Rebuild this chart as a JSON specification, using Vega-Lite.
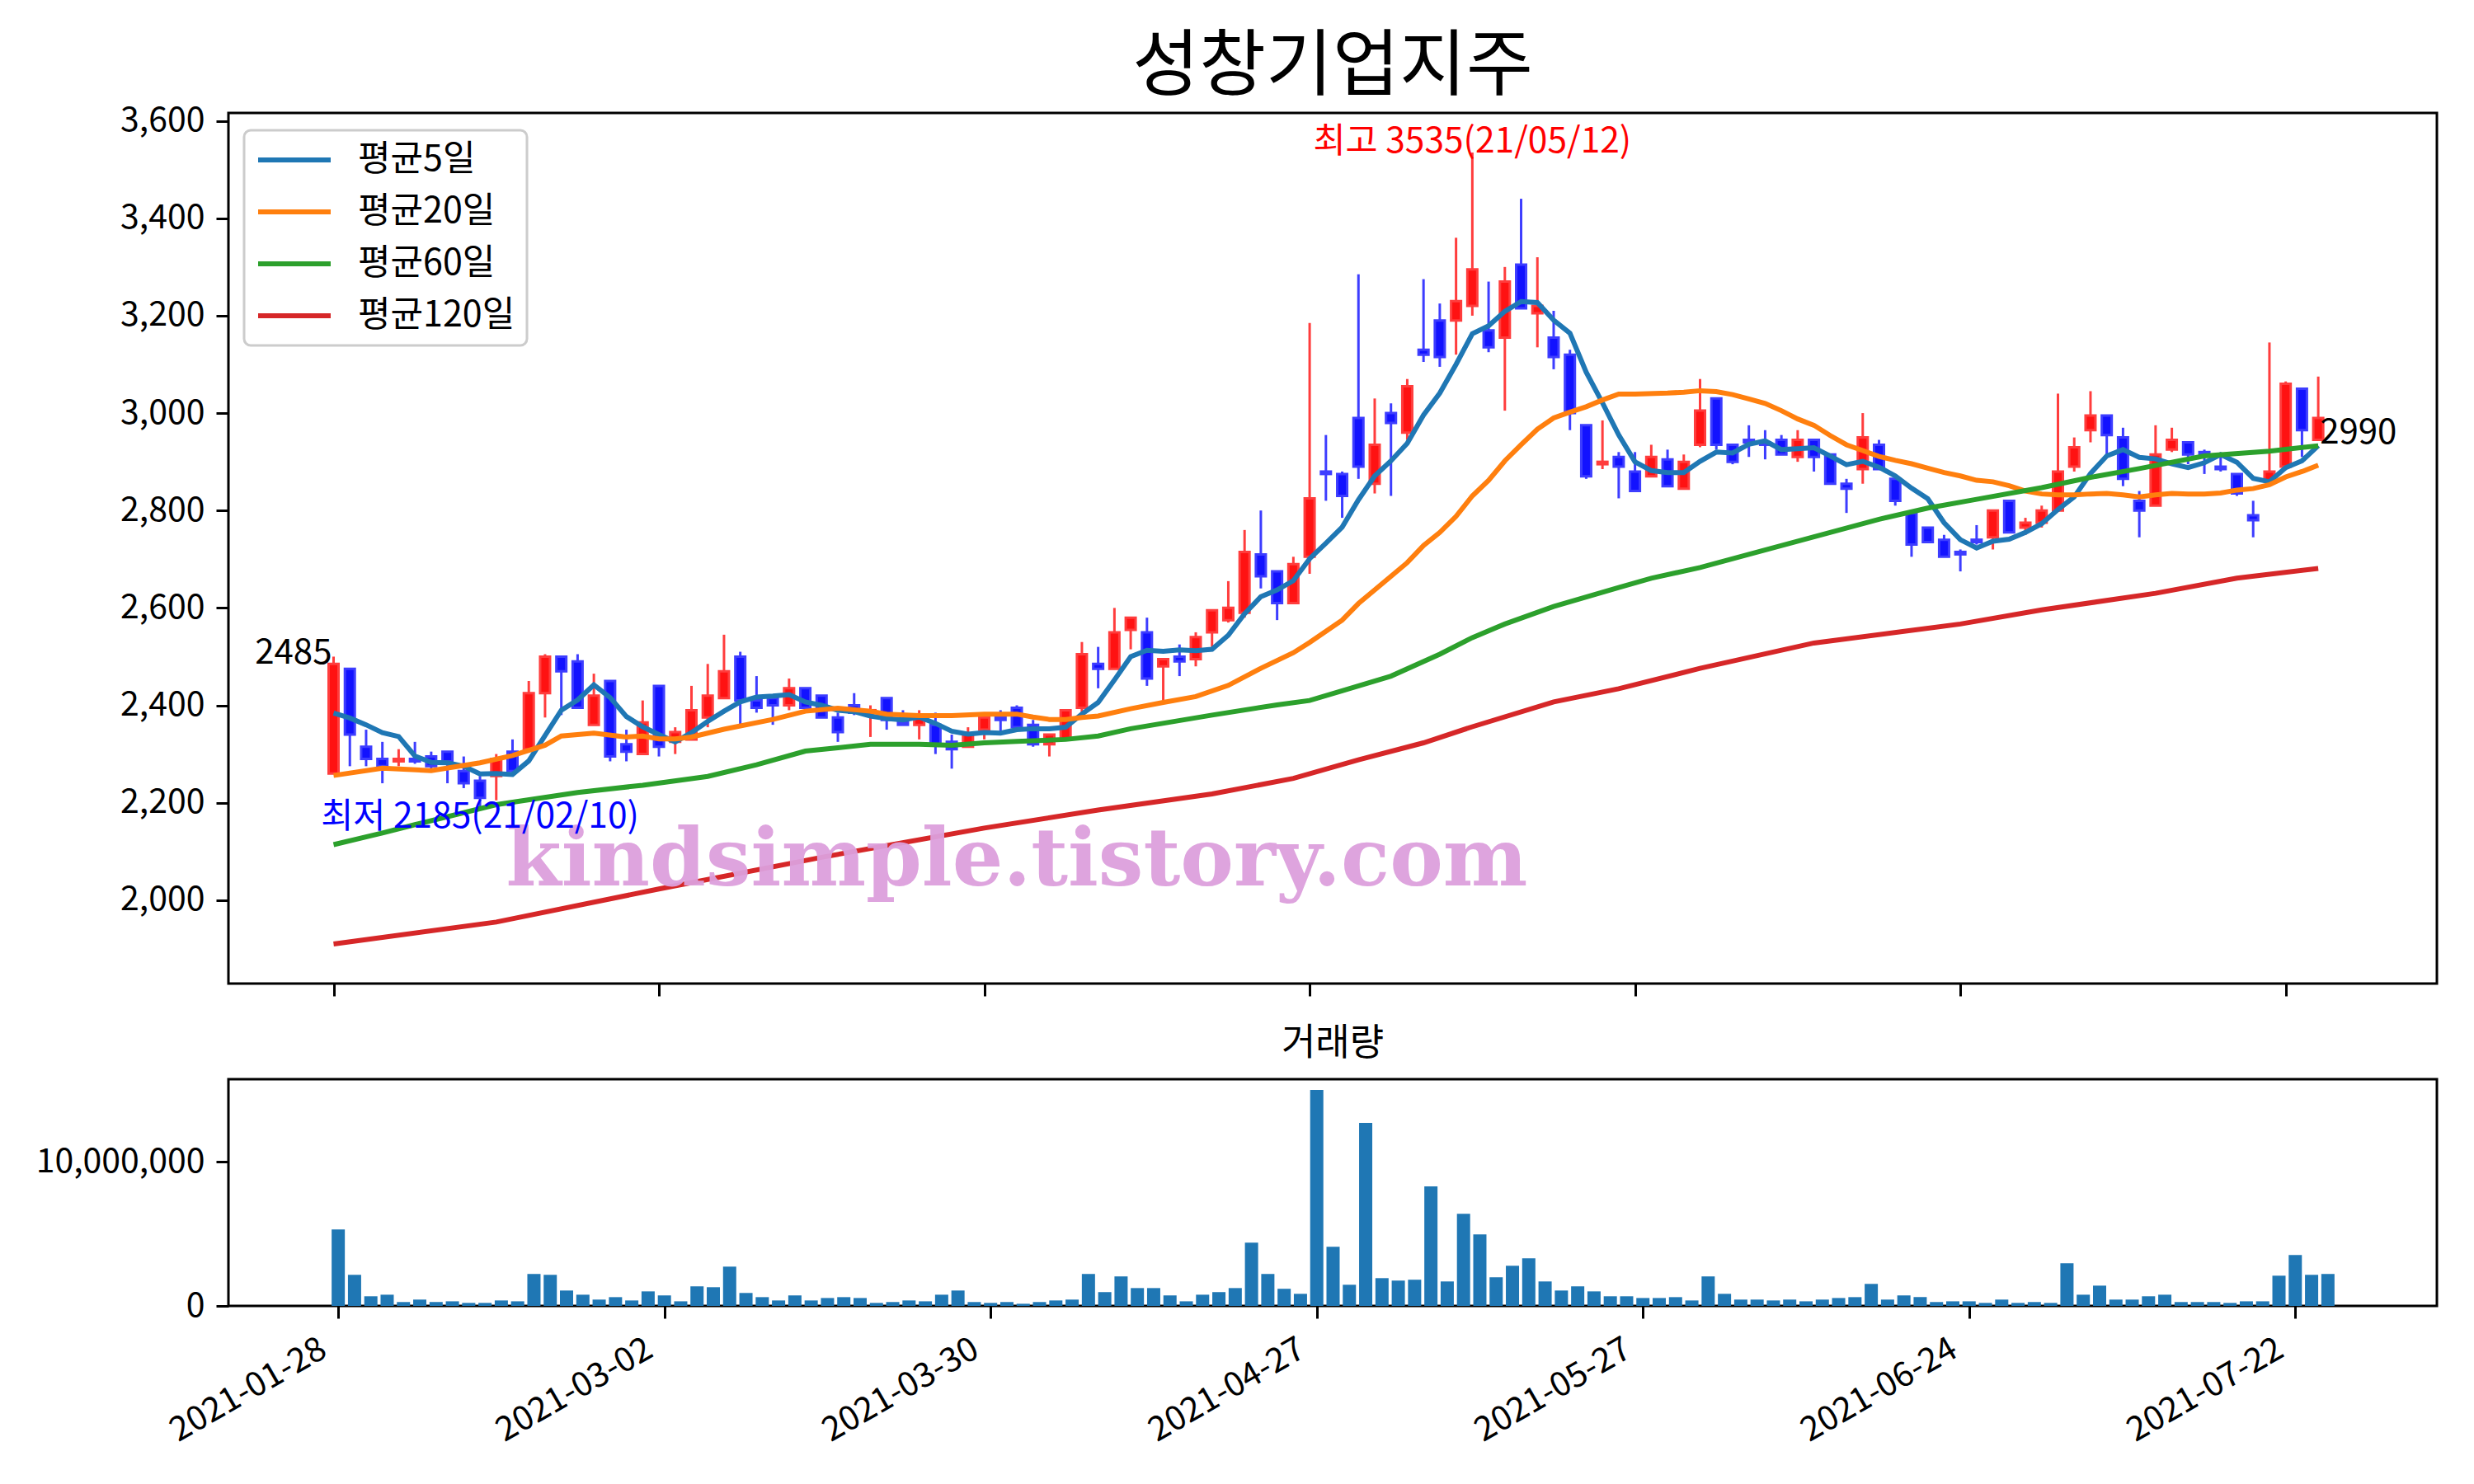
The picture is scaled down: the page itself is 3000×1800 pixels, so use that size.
{
"$schema":"https://vega.github.io/schema/vega-lite/v6.json",
"padding":{"left":41,"top":36,"right":10,"bottom":10},
"spacing":31,
"config":{
 "font":"Noto Sans CJK KR",
 "view":{"stroke":"black","strokeWidth":3},
 "axis":{"labelFont":"Noto Sans CJK KR","labelFontSize":41,"labelColor":"black","tickColor":"black","tickWidth":3,"tickSize":15,"domain":false,"grid":false,"labelPadding":14,"labelLimit":600,"title":null},
 "legend":{"strokeWidth":3},
 "title":{"font":"Noto Sans CJK KR","fontWeight":"normal","color":"black"}
},
"datasets":{
"k":[
{"idx":0,"date":"2021-01-28","open":2260,"high":2500,"low":2260,"close":2485,"volume":5310000},
{"idx":1,"date":"2021-01-29","open":2475,"high":2475,"low":2275,"close":2340,"volume":2160000},
{"idx":2,"date":"2021-02-01","open":2315,"high":2350,"low":2275,"close":2290,"volume":670000},
{"idx":3,"date":"2021-02-02","open":2290,"high":2325,"low":2240,"close":2275,"volume":780000},
{"idx":4,"date":"2021-02-03","open":2285,"high":2310,"low":2275,"close":2290,"volume":270000},
{"idx":5,"date":"2021-02-04","open":2290,"high":2325,"low":2280,"close":2285,"volume":440000},
{"idx":6,"date":"2021-02-05","open":2295,"high":2305,"low":2270,"close":2275,"volume":270000},
{"idx":7,"date":"2021-02-08","open":2305,"high":2305,"low":2240,"close":2285,"volume":320000},
{"idx":8,"date":"2021-02-09","open":2265,"high":2295,"low":2230,"close":2240,"volume":210000},
{"idx":9,"date":"2021-02-10","open":2245,"high":2255,"low":2185,"close":2210,"volume":210000},
{"idx":10,"date":"2021-02-15","open":2255,"high":2300,"low":2205,"close":2290,"volume":380000},
{"idx":11,"date":"2021-02-16","open":2305,"high":2330,"low":2265,"close":2265,"volume":320000},
{"idx":12,"date":"2021-02-17","open":2310,"high":2450,"low":2310,"close":2425,"volume":2220000},
{"idx":13,"date":"2021-02-18","open":2425,"high":2505,"low":2375,"close":2500,"volume":2160000},
{"idx":14,"date":"2021-02-19","open":2500,"high":2500,"low":2380,"close":2470,"volume":1070000},
{"idx":15,"date":"2021-02-22","open":2490,"high":2505,"low":2395,"close":2395,"volume":780000},
{"idx":16,"date":"2021-02-23","open":2360,"high":2465,"low":2360,"close":2420,"volume":440000},
{"idx":17,"date":"2021-02-24","open":2450,"high":2450,"low":2285,"close":2295,"volume":610000},
{"idx":18,"date":"2021-02-25","open":2320,"high":2350,"low":2285,"close":2305,"volume":380000},
{"idx":19,"date":"2021-02-26","open":2300,"high":2410,"low":2300,"close":2365,"volume":1010000},
{"idx":20,"date":"2021-03-02","open":2440,"high":2440,"low":2295,"close":2315,"volume":730000},
{"idx":21,"date":"2021-03-03","open":2325,"high":2355,"low":2300,"close":2345,"volume":320000},
{"idx":22,"date":"2021-03-04","open":2330,"high":2440,"low":2330,"close":2390,"volume":1360000},
{"idx":23,"date":"2021-03-05","open":2375,"high":2485,"low":2355,"close":2420,"volume":1300000},
{"idx":24,"date":"2021-03-08","open":2415,"high":2545,"low":2415,"close":2470,"volume":2730000},
{"idx":25,"date":"2021-03-09","open":2500,"high":2510,"low":2360,"close":2410,"volume":900000},
{"idx":26,"date":"2021-03-10","open":2410,"high":2460,"low":2385,"close":2395,"volume":610000},
{"idx":27,"date":"2021-03-11","open":2415,"high":2415,"low":2360,"close":2400,"volume":380000},
{"idx":28,"date":"2021-03-12","open":2400,"high":2455,"low":2390,"close":2435,"volume":730000},
{"idx":29,"date":"2021-03-15","open":2435,"high":2435,"low":2395,"close":2395,"volume":380000},
{"idx":30,"date":"2021-03-16","open":2420,"high":2420,"low":2375,"close":2375,"volume":550000},
{"idx":31,"date":"2021-03-17","open":2375,"high":2385,"low":2325,"close":2345,"volume":610000},
{"idx":32,"date":"2021-03-18","open":2400,"high":2425,"low":2380,"close":2385,"volume":550000},
{"idx":33,"date":"2021-03-19","open":2385,"high":2400,"low":2335,"close":2390,"volume":210000},
{"idx":34,"date":"2021-03-22","open":2415,"high":2415,"low":2350,"close":2370,"volume":270000},
{"idx":35,"date":"2021-03-23","open":2365,"high":2390,"low":2360,"close":2360,"volume":380000},
{"idx":36,"date":"2021-03-24","open":2360,"high":2390,"low":2330,"close":2375,"volume":320000},
{"idx":37,"date":"2021-03-25","open":2360,"high":2385,"low":2300,"close":2320,"volume":780000},
{"idx":38,"date":"2021-03-26","open":2325,"high":2340,"low":2270,"close":2310,"volume":1070000},
{"idx":39,"date":"2021-03-29","open":2315,"high":2355,"low":2315,"close":2340,"volume":270000},
{"idx":40,"date":"2021-03-30","open":2350,"high":2375,"low":2330,"close":2375,"volume":210000},
{"idx":41,"date":"2021-03-31","open":2375,"high":2390,"low":2345,"close":2370,"volume":270000},
{"idx":42,"date":"2021-04-01","open":2395,"high":2400,"low":2355,"close":2355,"volume":150000},
{"idx":43,"date":"2021-04-02","open":2360,"high":2370,"low":2315,"close":2320,"volume":270000},
{"idx":44,"date":"2021-04-05","open":2320,"high":2340,"low":2295,"close":2340,"volume":380000},
{"idx":45,"date":"2021-04-06","open":2330,"high":2390,"low":2330,"close":2390,"volume":440000},
{"idx":46,"date":"2021-04-07","open":2395,"high":2530,"low":2385,"close":2505,"volume":2220000},
{"idx":47,"date":"2021-04-08","open":2485,"high":2520,"low":2435,"close":2475,"volume":960000},
{"idx":48,"date":"2021-04-09","open":2475,"high":2600,"low":2475,"close":2550,"volume":2050000},
{"idx":49,"date":"2021-04-12","open":2555,"high":2580,"low":2515,"close":2580,"volume":1240000},
{"idx":50,"date":"2021-04-13","open":2550,"high":2580,"low":2440,"close":2455,"volume":1240000},
{"idx":51,"date":"2021-04-14","open":2480,"high":2495,"low":2410,"close":2495,"volume":730000},
{"idx":52,"date":"2021-04-15","open":2500,"high":2525,"low":2460,"close":2490,"volume":320000},
{"idx":53,"date":"2021-04-16","open":2495,"high":2550,"low":2480,"close":2540,"volume":780000},
{"idx":54,"date":"2021-04-19","open":2550,"high":2595,"low":2520,"close":2595,"volume":960000},
{"idx":55,"date":"2021-04-20","open":2575,"high":2655,"low":2570,"close":2600,"volume":1240000},
{"idx":56,"date":"2021-04-21","open":2590,"high":2760,"low":2580,"close":2715,"volume":4400000},
{"idx":57,"date":"2021-04-22","open":2710,"high":2800,"low":2640,"close":2665,"volume":2220000},
{"idx":58,"date":"2021-04-23","open":2675,"high":2675,"low":2575,"close":2610,"volume":1190000},
{"idx":59,"date":"2021-04-26","open":2610,"high":2705,"low":2610,"close":2690,"volume":840000},
{"idx":60,"date":"2021-04-27","open":2705,"high":3185,"low":2670,"close":2825,"volume":15000000},
{"idx":61,"date":"2021-04-28","open":2880,"high":2955,"low":2820,"close":2875,"volume":4110000},
{"idx":62,"date":"2021-04-29","open":2875,"high":2880,"low":2785,"close":2830,"volume":1470000},
{"idx":63,"date":"2021-04-30","open":2990,"high":3285,"low":2865,"close":2890,"volume":12710000},
{"idx":64,"date":"2021-05-03","open":2855,"high":3030,"low":2835,"close":2935,"volume":1930000},
{"idx":65,"date":"2021-05-04","open":3000,"high":3020,"low":2830,"close":2980,"volume":1760000},
{"idx":66,"date":"2021-05-06","open":2960,"high":3070,"low":2945,"close":3055,"volume":1820000},
{"idx":67,"date":"2021-05-07","open":3130,"high":3275,"low":3105,"close":3120,"volume":8300000},
{"idx":68,"date":"2021-05-10","open":3190,"high":3225,"low":3095,"close":3115,"volume":1700000},
{"idx":69,"date":"2021-05-11","open":3190,"high":3360,"low":3120,"close":3230,"volume":6400000},
{"idx":70,"date":"2021-05-12","open":3220,"high":3535,"low":3200,"close":3295,"volume":4970000},
{"idx":71,"date":"2021-05-13","open":3170,"high":3270,"low":3125,"close":3135,"volume":1990000},
{"idx":72,"date":"2021-05-14","open":3155,"high":3300,"low":3005,"close":3270,"volume":2790000},
{"idx":73,"date":"2021-05-17","open":3305,"high":3440,"low":3215,"close":3215,"volume":3310000},
{"idx":74,"date":"2021-05-18","open":3205,"high":3320,"low":3135,"close":3220,"volume":1700000},
{"idx":75,"date":"2021-05-20","open":3155,"high":3210,"low":3090,"close":3115,"volume":1070000},
{"idx":76,"date":"2021-05-21","open":3120,"high":3130,"low":2965,"close":3000,"volume":1360000},
{"idx":77,"date":"2021-05-24","open":2975,"high":2975,"low":2865,"close":2870,"volume":1010000},
{"idx":78,"date":"2021-05-25","open":2895,"high":2985,"low":2885,"close":2900,"volume":670000},
{"idx":79,"date":"2021-05-26","open":2910,"high":2920,"low":2825,"close":2890,"volume":670000},
{"idx":80,"date":"2021-05-27","open":2880,"high":2920,"low":2840,"close":2840,"volume":550000},
{"idx":81,"date":"2021-05-28","open":2870,"high":2935,"low":2870,"close":2910,"volume":550000},
{"idx":82,"date":"2021-05-31","open":2905,"high":2925,"low":2850,"close":2850,"volume":610000},
{"idx":83,"date":"2021-06-01","open":2845,"high":2915,"low":2845,"close":2900,"volume":380000},
{"idx":84,"date":"2021-06-02","open":2935,"high":3070,"low":2930,"close":3005,"volume":2050000},
{"idx":85,"date":"2021-06-03","open":3030,"high":3030,"low":2925,"close":2935,"volume":840000},
{"idx":86,"date":"2021-06-04","open":2935,"high":2935,"low":2895,"close":2900,"volume":440000},
{"idx":87,"date":"2021-06-07","open":2945,"high":2975,"low":2910,"close":2940,"volume":440000},
{"idx":88,"date":"2021-06-08","open":2940,"high":2965,"low":2905,"close":2935,"volume":380000},
{"idx":89,"date":"2021-06-09","open":2945,"high":2955,"low":2915,"close":2915,"volume":440000},
{"idx":90,"date":"2021-06-10","open":2910,"high":2965,"low":2900,"close":2945,"volume":320000},
{"idx":91,"date":"2021-06-11","open":2945,"high":2945,"low":2880,"close":2910,"volume":440000},
{"idx":92,"date":"2021-06-14","open":2915,"high":2915,"low":2855,"close":2855,"volume":550000},
{"idx":93,"date":"2021-06-15","open":2855,"high":2865,"low":2795,"close":2845,"volume":610000},
{"idx":94,"date":"2021-06-16","open":2885,"high":3000,"low":2855,"close":2950,"volume":1530000},
{"idx":95,"date":"2021-06-17","open":2935,"high":2945,"low":2885,"close":2885,"volume":440000},
{"idx":96,"date":"2021-06-18","open":2865,"high":2865,"low":2810,"close":2820,"volume":730000},
{"idx":97,"date":"2021-06-21","open":2795,"high":2795,"low":2705,"close":2730,"volume":610000},
{"idx":98,"date":"2021-06-22","open":2765,"high":2765,"low":2735,"close":2735,"volume":270000},
{"idx":99,"date":"2021-06-23","open":2740,"high":2750,"low":2705,"close":2705,"volume":320000},
{"idx":100,"date":"2021-06-24","open":2715,"high":2720,"low":2675,"close":2710,"volume":320000},
{"idx":101,"date":"2021-06-25","open":2740,"high":2770,"low":2730,"close":2735,"volume":210000},
{"idx":102,"date":"2021-06-28","open":2745,"high":2800,"low":2720,"close":2800,"volume":440000},
{"idx":103,"date":"2021-06-29","open":2820,"high":2820,"low":2755,"close":2755,"volume":210000},
{"idx":104,"date":"2021-06-30","open":2765,"high":2785,"low":2750,"close":2775,"volume":270000},
{"idx":105,"date":"2021-07-01","open":2775,"high":2810,"low":2765,"close":2800,"volume":210000},
{"idx":106,"date":"2021-07-02","open":2800,"high":3040,"low":2800,"close":2880,"volume":2960000},
{"idx":107,"date":"2021-07-05","open":2890,"high":2950,"low":2880,"close":2930,"volume":780000},
{"idx":108,"date":"2021-07-06","open":2965,"high":3045,"low":2940,"close":2995,"volume":1410000},
{"idx":109,"date":"2021-07-07","open":2995,"high":2995,"low":2915,"close":2955,"volume":440000},
{"idx":110,"date":"2021-07-08","open":2950,"high":2970,"low":2850,"close":2865,"volume":440000},
{"idx":111,"date":"2021-07-09","open":2820,"high":2840,"low":2745,"close":2800,"volume":670000},
{"idx":112,"date":"2021-07-12","open":2810,"high":2975,"low":2810,"close":2915,"volume":780000},
{"idx":113,"date":"2021-07-13","open":2925,"high":2970,"low":2920,"close":2945,"volume":270000},
{"idx":114,"date":"2021-07-14","open":2940,"high":2940,"low":2895,"close":2915,"volume":270000},
{"idx":115,"date":"2021-07-15","open":2920,"high":2925,"low":2875,"close":2915,"volume":270000},
{"idx":116,"date":"2021-07-16","open":2890,"high":2910,"low":2880,"close":2885,"volume":210000},
{"idx":117,"date":"2021-07-19","open":2875,"high":2875,"low":2830,"close":2835,"volume":320000},
{"idx":118,"date":"2021-07-20","open":2790,"high":2820,"low":2745,"close":2780,"volume":320000},
{"idx":119,"date":"2021-07-21","open":2860,"high":3145,"low":2860,"close":2880,"volume":2100000},
{"idx":120,"date":"2021-07-22","open":2890,"high":3065,"low":2890,"close":3060,"volume":3540000},
{"idx":121,"date":"2021-07-23","open":3050,"high":3050,"low":2910,"close":2965,"volume":2160000},
{"idx":122,"date":"2021-07-26","open":2945,"high":3075,"low":2945,"close":2990,"volume":2220000}
],
"ma":[
{"idx":0,"ma":"평균5일","value":2384},{"idx":1,"ma":"평균5일","value":2374},{"idx":2,"ma":"평균5일","value":2360},{"idx":3,"ma":"평균5일","value":2344},{"idx":4,"ma":"평균5일","value":2336},{"idx":5,"ma":"평균5일","value":2296},{"idx":6,"ma":"평균5일","value":2283},{"idx":7,"ma":"평균5일","value":2282},{"idx":8,"ma":"평균5일","value":2275},{"idx":9,"ma":"평균5일","value":2259},
{"idx":10,"ma":"평균5일","value":2260},{"idx":11,"ma":"평균5일","value":2258},{"idx":12,"ma":"평균5일","value":2286},{"idx":13,"ma":"평균5일","value":2338},{"idx":14,"ma":"평균5일","value":2390},{"idx":15,"ma":"평균5일","value":2411},{"idx":16,"ma":"평균5일","value":2442},{"idx":17,"ma":"평균5일","value":2416},{"idx":18,"ma":"평균5일","value":2377},{"idx":19,"ma":"평균5일","value":2356},
{"idx":20,"ma":"평균5일","value":2340},{"idx":21,"ma":"평균5일","value":2325},{"idx":22,"ma":"평균5일","value":2344},{"idx":23,"ma":"평균5일","value":2367},{"idx":24,"ma":"평균5일","value":2388},{"idx":25,"ma":"평균5일","value":2407},{"idx":26,"ma":"평균5일","value":2417},{"idx":27,"ma":"평균5일","value":2419},{"idx":28,"ma":"평균5일","value":2422},{"idx":29,"ma":"평균5일","value":2407},
{"idx":30,"ma":"평균5일","value":2400},{"idx":31,"ma":"평균5일","value":2390},{"idx":32,"ma":"평균5일","value":2387},{"idx":33,"ma":"평균5일","value":2378},{"idx":34,"ma":"평균5일","value":2373},{"idx":35,"ma":"평균5일","value":2370},{"idx":36,"ma":"평균5일","value":2376},{"idx":37,"ma":"평균5일","value":2363},{"idx":38,"ma":"평균5일","value":2347},{"idx":39,"ma":"평균5일","value":2341},
{"idx":40,"ma":"평균5일","value":2344},{"idx":41,"ma":"평균5일","value":2343},{"idx":42,"ma":"평균5일","value":2350},{"idx":43,"ma":"평균5일","value":2352},{"idx":44,"ma":"평균5일","value":2352},{"idx":45,"ma":"평균5일","value":2355},{"idx":46,"ma":"평균5일","value":2382},{"idx":47,"ma":"평균5일","value":2406},{"idx":48,"ma":"평균5일","value":2452},{"idx":49,"ma":"평균5일","value":2500},
{"idx":50,"ma":"평균5일","value":2513},{"idx":51,"ma":"평균5일","value":2511},{"idx":52,"ma":"평균5일","value":2514},{"idx":53,"ma":"평균5일","value":2512},{"idx":54,"ma":"평균5일","value":2515},{"idx":55,"ma":"평균5일","value":2544},{"idx":56,"ma":"평균5일","value":2588},{"idx":57,"ma":"평균5일","value":2623},{"idx":58,"ma":"평균5일","value":2637},{"idx":59,"ma":"평균5일","value":2656},
{"idx":60,"ma":"평균5일","value":2701},{"idx":61,"ma":"평균5일","value":2733},{"idx":62,"ma":"평균5일","value":2766},{"idx":63,"ma":"평균5일","value":2822},{"idx":64,"ma":"평균5일","value":2871},{"idx":65,"ma":"평균5일","value":2902},{"idx":66,"ma":"평균5일","value":2938},{"idx":67,"ma":"평균5일","value":2996},{"idx":68,"ma":"평균5일","value":3041},{"idx":69,"ma":"평균5일","value":3100},
{"idx":70,"ma":"평균5일","value":3163},{"idx":71,"ma":"평균5일","value":3179},{"idx":72,"ma":"평균5일","value":3209},{"idx":73,"ma":"평균5일","value":3229},{"idx":74,"ma":"평균5일","value":3227},{"idx":75,"ma":"평균5일","value":3191},{"idx":76,"ma":"평균5일","value":3164},{"idx":77,"ma":"평균5일","value":3084},{"idx":78,"ma":"평균5일","value":3021},{"idx":79,"ma":"평균5일","value":2955},
{"idx":80,"ma":"평균5일","value":2900},{"idx":81,"ma":"평균5일","value":2882},{"idx":82,"ma":"평균5일","value":2878},{"idx":83,"ma":"평균5일","value":2878},{"idx":84,"ma":"평균5일","value":2901},{"idx":85,"ma":"평균5일","value":2920},{"idx":86,"ma":"평균5일","value":2918},{"idx":87,"ma":"평균5일","value":2936},{"idx":88,"ma":"평균5일","value":2943},{"idx":89,"ma":"평균5일","value":2925},
{"idx":90,"ma":"평균5일","value":2927},{"idx":91,"ma":"평균5일","value":2929},{"idx":92,"ma":"평균5일","value":2912},{"idx":93,"ma":"평균5일","value":2894},{"idx":94,"ma":"평균5일","value":2901},{"idx":95,"ma":"평균5일","value":2889},{"idx":96,"ma":"평균5일","value":2871},{"idx":97,"ma":"평균5일","value":2846},{"idx":98,"ma":"평균5일","value":2824},{"idx":99,"ma":"평균5일","value":2775},
{"idx":100,"ma":"평균5일","value":2740},{"idx":101,"ma":"평균5일","value":2723},{"idx":102,"ma":"평균5일","value":2737},{"idx":103,"ma":"평균5일","value":2741},{"idx":104,"ma":"평균5일","value":2755},{"idx":105,"ma":"평균5일","value":2773},{"idx":106,"ma":"평균5일","value":2802},{"idx":107,"ma":"평균5일","value":2828},{"idx":108,"ma":"평균5일","value":2876},{"idx":109,"ma":"평균5일","value":2912},
{"idx":110,"ma":"평균5일","value":2925},{"idx":111,"ma":"평균5일","value":2909},{"idx":112,"ma":"평균5일","value":2906},{"idx":113,"ma":"평균5일","value":2896},{"idx":114,"ma":"평균5일","value":2888},{"idx":115,"ma":"평균5일","value":2898},{"idx":116,"ma":"평균5일","value":2915},{"idx":117,"ma":"평균5일","value":2899},{"idx":118,"ma":"평균5일","value":2866},{"idx":119,"ma":"평균5일","value":2859},
{"idx":120,"ma":"평균5일","value":2888},{"idx":121,"ma":"평균5일","value":2902},{"idx":122,"ma":"평균5일","value":2933},
{"idx":0,"ma":"평균20일","value":2256},{"idx":3,"ma":"평균20일","value":2271},{"idx":6,"ma":"평균20일","value":2266},{"idx":9,"ma":"평균20일","value":2282},{"idx":11,"ma":"평균20일","value":2297},{"idx":13,"ma":"평균20일","value":2318},{"idx":14,"ma":"평균20일","value":2337},{"idx":16,"ma":"평균20일","value":2343},{"idx":18,"ma":"평균20일","value":2335},{"idx":19,"ma":"평균20일","value":2337},
{"idx":20,"ma":"평균20일","value":2331},{"idx":21,"ma":"평균20일","value":2331},{"idx":22,"ma":"평균20일","value":2335},{"idx":24,"ma":"평균20일","value":2351},{"idx":27,"ma":"평균20일","value":2371},{"idx":29,"ma":"평균20일","value":2388},{"idx":31,"ma":"평균20일","value":2394},{"idx":33,"ma":"평균20일","value":2388},{"idx":34,"ma":"평균20일","value":2382},{"idx":36,"ma":"평균20일","value":2379},
{"idx":38,"ma":"평균20일","value":2379},{"idx":40,"ma":"평균20일","value":2382},{"idx":42,"ma":"평균20일","value":2382},{"idx":43,"ma":"평균20일","value":2376},{"idx":44,"ma":"평균20일","value":2371},{"idx":45,"ma":"평균20일","value":2371},{"idx":46,"ma":"평균20일","value":2375},{"idx":47,"ma":"평균20일","value":2378},{"idx":49,"ma":"평균20일","value":2393},{"idx":51,"ma":"평균20일","value":2406},
{"idx":53,"ma":"평균20일","value":2418},{"idx":55,"ma":"평균20일","value":2441},{"idx":57,"ma":"평균20일","value":2476},{"idx":59,"ma":"평균20일","value":2508},{"idx":60,"ma":"평균20일","value":2529},{"idx":62,"ma":"평균20일","value":2575},{"idx":63,"ma":"평균20일","value":2609},{"idx":64,"ma":"평균20일","value":2637},{"idx":65,"ma":"평균20일","value":2665},{"idx":66,"ma":"평균20일","value":2693},
{"idx":67,"ma":"평균20일","value":2728},{"idx":68,"ma":"평균20일","value":2755},{"idx":69,"ma":"평균20일","value":2788},{"idx":70,"ma":"평균20일","value":2830},{"idx":71,"ma":"평균20일","value":2862},{"idx":72,"ma":"평균20일","value":2902},{"idx":73,"ma":"평균20일","value":2935},{"idx":74,"ma":"평균20일","value":2967},{"idx":75,"ma":"평균20일","value":2990},{"idx":76,"ma":"평균20일","value":3002},
{"idx":77,"ma":"평균20일","value":3013},{"idx":78,"ma":"평균20일","value":3027},{"idx":79,"ma":"평균20일","value":3039},{"idx":80,"ma":"평균20일","value":3039},{"idx":82,"ma":"평균20일","value":3041},{"idx":83,"ma":"평균20일","value":3043},{"idx":84,"ma":"평균20일","value":3046},{"idx":85,"ma":"평균20일","value":3044},{"idx":86,"ma":"평균20일","value":3038},{"idx":87,"ma":"평균20일","value":3029},
{"idx":88,"ma":"평균20일","value":3020},{"idx":89,"ma":"평균20일","value":3005},{"idx":90,"ma":"평균20일","value":2988},{"idx":91,"ma":"평균20일","value":2975},{"idx":92,"ma":"평균20일","value":2954},{"idx":93,"ma":"평균20일","value":2935},{"idx":94,"ma":"평균20일","value":2923},{"idx":95,"ma":"평균20일","value":2911},{"idx":96,"ma":"평균20일","value":2903},{"idx":97,"ma":"평균20일","value":2896},
{"idx":98,"ma":"평균20일","value":2887},{"idx":99,"ma":"평균20일","value":2878},{"idx":100,"ma":"평균20일","value":2871},{"idx":101,"ma":"평균20일","value":2862},{"idx":102,"ma":"평균20일","value":2859},{"idx":103,"ma":"평균20일","value":2851},{"idx":104,"ma":"평균20일","value":2840},{"idx":105,"ma":"평균20일","value":2834},{"idx":106,"ma":"평균20일","value":2832},{"idx":107,"ma":"평균20일","value":2832},
{"idx":108,"ma":"평균20일","value":2834},{"idx":109,"ma":"평균20일","value":2835},{"idx":110,"ma":"평균20일","value":2832},{"idx":111,"ma":"평균20일","value":2828},{"idx":112,"ma":"평균20일","value":2832},{"idx":113,"ma":"평균20일","value":2835},{"idx":114,"ma":"평균20일","value":2834},{"idx":115,"ma":"평균20일","value":2834},{"idx":116,"ma":"평균20일","value":2836},{"idx":117,"ma":"평균20일","value":2842},
{"idx":118,"ma":"평균20일","value":2845},{"idx":119,"ma":"평균20일","value":2853},{"idx":120,"ma":"평균20일","value":2869},{"idx":121,"ma":"평균20일","value":2880},{"idx":122,"ma":"평균20일","value":2893},
{"idx":0,"ma":"평균60일","value":2114},{"idx":3,"ma":"평균60일","value":2138},{"idx":5,"ma":"평균60일","value":2155},{"idx":10,"ma":"평균60일","value":2196},{"idx":15,"ma":"평균60일","value":2221},{"idx":19,"ma":"평균60일","value":2236},{"idx":23,"ma":"평균60일","value":2254},{"idx":26,"ma":"평균60일","value":2278},{"idx":29,"ma":"평균60일","value":2306},{"idx":31,"ma":"평균60일","value":2313},
{"idx":33,"ma":"평균60일","value":2320},{"idx":36,"ma":"평균60일","value":2320},{"idx":38,"ma":"평균60일","value":2318},{"idx":40,"ma":"평균60일","value":2323},{"idx":42,"ma":"평균60일","value":2326},{"idx":45,"ma":"평균60일","value":2330},{"idx":47,"ma":"평균60일","value":2337},{"idx":49,"ma":"평균60일","value":2352},{"idx":54,"ma":"평균60일","value":2380},{"idx":58,"ma":"평균60일","value":2401},
{"idx":60,"ma":"평균60일","value":2410},{"idx":62,"ma":"평균60일","value":2430},{"idx":65,"ma":"평균60일","value":2460},{"idx":68,"ma":"평균60일","value":2505},{"idx":70,"ma":"평균60일","value":2539},{"idx":72,"ma":"평균60일","value":2567},{"idx":75,"ma":"평균60일","value":2603},{"idx":79,"ma":"평균60일","value":2642},{"idx":81,"ma":"평균60일","value":2661},{"idx":84,"ma":"평균60일","value":2683},
{"idx":87,"ma":"평균60일","value":2710},{"idx":91,"ma":"평균60일","value":2746},{"idx":95,"ma":"평균60일","value":2782},{"idx":98,"ma":"평균60일","value":2805},{"idx":101,"ma":"평균60일","value":2823},{"idx":105,"ma":"평균60일","value":2847},{"idx":108,"ma":"평균60일","value":2868},{"idx":111,"ma":"평균60일","value":2886},{"idx":115,"ma":"평균60일","value":2912},{"idx":119,"ma":"평균60일","value":2922},
{"idx":122,"ma":"평균60일","value":2933},
{"idx":0,"ma":"평균120일","value":1910},{"idx":10,"ma":"평균120일","value":1955},{"idx":20,"ma":"평균120일","value":2023},{"idx":30,"ma":"평균120일","value":2088},{"idx":40,"ma":"평균120일","value":2148},{"idx":47,"ma":"평균120일","value":2185},{"idx":54,"ma":"평균120일","value":2218},{"idx":59,"ma":"평균120일","value":2250},{"idx":63,"ma":"평균120일","value":2288},{"idx":67,"ma":"평균120일","value":2323},
{"idx":70,"ma":"평균120일","value":2356},{"idx":75,"ma":"평균120일","value":2407},{"idx":79,"ma":"평균120일","value":2434},{"idx":84,"ma":"평균120일","value":2476},{"idx":91,"ma":"평균120일","value":2528},{"idx":100,"ma":"평균120일","value":2567},{"idx":105,"ma":"평균120일","value":2596},{"idx":112,"ma":"평균120일","value":2630},{"idx":117,"ma":"평균120일","value":2661},{"idx":122,"ma":"평균120일","value":2681}
]
},
"vconcat":[
{
 "width":2678,"height":1056,
 "title":{"text":"성창기업지주","fontSize":88,"offset":0},
 "layer":[
  {"data":{"name":"k"},"mark":{"type":"rule","strokeWidth":3},
   "encoding":{
    "x":{"field":"idx","type":"quantitative","scale":{"domain":[-6.21,129.04],"nice":false,"zero":false},"axis":{"values":[0,20,40,60,80,100,120],"labels":false}},
    "y":{"field":"low","type":"quantitative","scale":{"domain":[1828.75,3616.25],"nice":false,"zero":false},"axis":{"values":[2000,2200,2400,2600,2800,3000,3200,3400,3600],"format":",.0f"}},
    "y2":{"field":"high"},
    "color":{"condition":{"test":"datum.close>=datum.open","value":"#ff3d3d"},"value":"#3d3dff"}
   }},
  {"data":{"name":"k"},"mark":{"type":"bar","size":12,"strokeWidth":3},
   "encoding":{
    "x":{"field":"idx","type":"quantitative"},
    "y":{"field":"open","type":"quantitative"},
    "y2":{"field":"close"},
    "fill":{"condition":{"test":"datum.close>=datum.open","value":"#ff1212"},"value":"#1212ff"},
    "stroke":{"condition":{"test":"datum.close>=datum.open","value":"#ff3d3d"},"value":"#3d3dff"}
   }},
  {"data":{"name":"ma"},"mark":{"type":"line","strokeWidth":6},
   "encoding":{
    "x":{"field":"idx","type":"quantitative"},
    "y":{"field":"value","type":"quantitative"},
    "color":{"field":"ma","type":"nominal","scale":{"domain":["평균5일","평균20일","평균60일","평균120일"],"range":["#1f77b4","#ff7f0e","#2ca02c","#d62728"]},
      "legend":{"title":null,"orient":"none","legendX":19,"legendY":21,"symbolType":"stroke","symbolSize":7744,"symbolStrokeWidth":6,"clipHeight":44,"labelFontSize":43,"labelFont":"Noto Sans CJK KR","labelColor":"black","labelLimit":600,"padding":14,"rowPadding":19,"labelOffset":30,"fillColor":"white","strokeColor":"#cccccc","cornerRadius":8}}
   }},
  {"data":{"values":[{"idx":42,"price":2080,"label":"kindsimple.tistory.com"}]},"mark":{"type":"text","font":"DejaVu Serif","fontWeight":"bold","fontSize":97,"color":"#dda0dd","opacity":0.95,"align":"center","baseline":"middle"},
   "encoding":{"x":{"field":"idx","type":"quantitative"},"y":{"field":"price","type":"quantitative"},"text":{"field":"label"}}},
  {"data":{"values":[{"idx":70,"price":3535,"label":"최고 3535(21/05/12)"}]},"mark":{"type":"text","fontSize":42.5,"color":"#ff0000","align":"center","baseline":"alphabetic"},
   "encoding":{"x":{"field":"idx","type":"quantitative"},"y":{"field":"price","type":"quantitative"},"text":{"field":"label"}}},
  {"data":{"values":[{"idx":9,"price":2148,"label":"최저 2185(21/02/10)"}]},"mark":{"type":"text","fontSize":42.5,"color":"#0000ff","align":"center","baseline":"alphabetic"},
   "encoding":{"x":{"field":"idx","type":"quantitative"},"y":{"field":"price","type":"quantitative"},"text":{"field":"label"}}},
  {"data":{"values":[{"idx":0,"price":2485,"label":"2485"}]},"mark":{"type":"text","fontSize":42,"color":"black","align":"right","baseline":"alphabetic","dx":-2},
   "encoding":{"x":{"field":"idx","type":"quantitative"},"y":{"field":"price","type":"quantitative"},"text":{"field":"label"}}},
  {"data":{"values":[{"idx":122,"price":2938,"label":"2990"}]},"mark":{"type":"text","fontSize":42,"color":"black","align":"left","baseline":"alphabetic","dx":2},
   "encoding":{"x":{"field":"idx","type":"quantitative"},"y":{"field":"price","type":"quantitative"},"text":{"field":"label"}}}
 ]
},
{
 "width":2678,"height":275,
 "title":{"text":"거래량","fontSize":45,"offset":20},
 "data":{"name":"k"},
 "mark":{"type":"bar","size":16,"color":"#1f77b4"},
 "encoding":{
  "x":{"field":"idx","type":"quantitative","scale":{"domain":[-6.48,128.43],"nice":false,"zero":false},
   "axis":{"values":[0,20,40,60,80,100,120],"labelAngle":-30,"labelAlign":"right","labelBaseline":"top","labelOffset":-28,"labelPadding":17,"labelExpr":"datum.value==0?'2021-01-28':datum.value==20?'2021-03-02':datum.value==40?'2021-03-30':datum.value==60?'2021-04-27':datum.value==80?'2021-05-27':datum.value==100?'2021-06-24':'2021-07-22'"}},
  "y":{"field":"volume","type":"quantitative","scale":{"domain":[0,15750000],"nice":false},"axis":{"values":[0,10000000],"format":",.0f"}}
 }
}
]
}
